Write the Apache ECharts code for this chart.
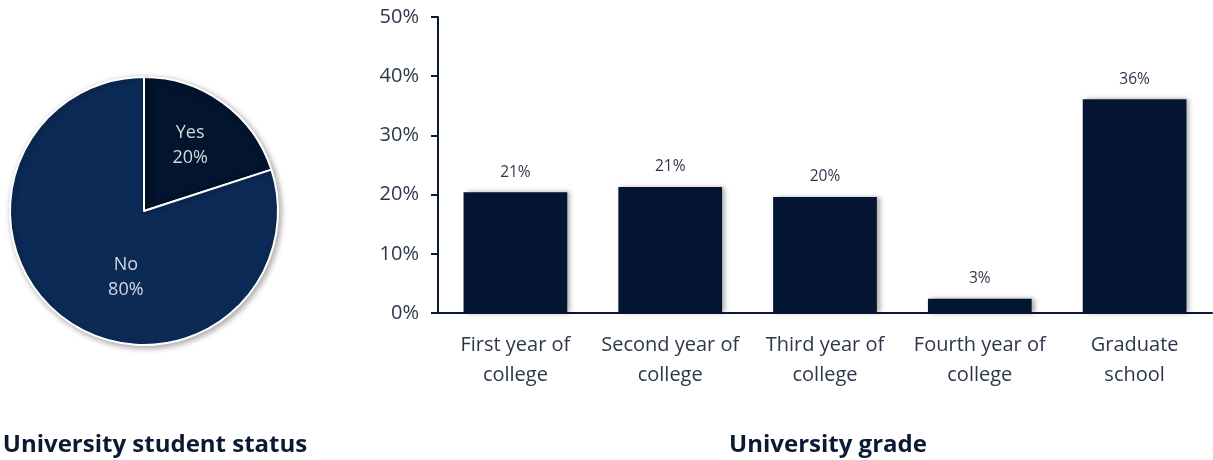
<!DOCTYPE html>
<html>
<head>
<meta charset="utf-8">
<script src="https://cdn.jsdelivr.net/npm/echarts@6/dist/echarts.min.js"></script>
<style>
  html, body { margin: 0; padding: 0; background: #fff; }
  #chart { width: 1213px; height: 460px; }
</style>
</head>
<body>
<div id="chart"></div>
<script>
// pie: university student status
var statusNames = ["Yes", "No"];
var statusValues = [20, 80];
var statusColors = ["#03142f", "#0b2a56"];

// bar: university grade
var gradeNames = ["First year of\ncollege", "Second year of\ncollege", "Third year of\ncollege", "Fourth year of\ncollege", "Graduate\nschool"];
var gradeValues = [20.4, 21.3, 19.6, 2.4, 36.1];
var gradeLabels = ["21%", "21%", "20%", "3%", "36%"];

var fontFam = "'Open Sans', 'Noto Sans', sans-serif";
var textCol = "#2e374a";

var myChart = echarts.init(document.getElementById("chart"));

// inside labels are nudged a bit like the original (spacer line above / below)
var pieFormats = ["{t|{b}}\n{t|{c}%}\n{g| }", "{h| }\n{t|{b}}\n{t|{c}%}"];
var piePads = [[0, 0, 0, 10], [0, 0, 0, 46]];
var pieData = [];
statusNames.forEach(function (n, i) {
  pieData.push({
    name: n, value: statusValues[i],
    itemStyle: { color: statusColors[i] },
    label: { formatter: pieFormats[i], padding: piePads[i] }
  });
});

myChart.setOption({
  animation: false,
  title: [
    {
      text: "University student status",
      left: 150, top: 428, textAlign: "center",
      textStyle: { fontFamily: fontFam, fontSize: 24, fontWeight: "bold", color: "#0b1a33" }
    },
    {
      text: "University grade",
      left: 823, top: 428, textAlign: "center",
      textStyle: { fontFamily: fontFam, fontSize: 24, fontWeight: "bold", color: "#0b1a33" }
    }
  ],
  grid: { left: 438, top: 17, right: 1, bottom: 147 },
  xAxis: {
    type: "category",
    data: gradeNames,
    axisLine: { lineStyle: { color: "#0b1a33", width: 2 } },
    axisTick: { length: 7, lineStyle: { color: "#0b1a33", width: 2 } },
    axisLabel: { interval: 0, fontFamily: fontFam, fontSize: 20, color: textCol, lineHeight: 30, margin: 17 }
  },
  yAxis: {
    type: "value",
    min: 0, max: 50, interval: 10,
    splitLine: { show: false },
    axisLine: { show: true, lineStyle: { color: "#0b1a33", width: 2 } },
    axisTick: { show: true, length: 7, lineStyle: { color: "#0b1a33", width: 2 } },
    axisLabel: { fontFamily: fontFam, fontSize: 20, color: textCol, margin: 19, formatter: "{value}%" }
  },
  series: [
    {
      type: "pie",
      center: [144, 211],
      radius: 134,
      startAngle: 90,
      clockwise: true,
      data: pieData,
      itemStyle: {
        borderColor: "#ffffff", borderWidth: 2,
        shadowColor: "rgba(0,0,0,0.35)", shadowBlur: 6, shadowOffsetX: 2, shadowOffsetY: 2
      },
      label: {
        position: "inside",
        fontFamily: fontFam, fontSize: 18, color: "#d3d8e0",
        rich: {
          t: { fontFamily: fontFam, fontSize: 18, lineHeight: 25, color: "#d3d8e0" },
          g: { fontSize: 10, lineHeight: 18 },
          h: { fontSize: 10, lineHeight: 20 }
        }
      },
      labelLine: { show: false }
    },
    {
      type: "bar",
      data: gradeValues,
      barCategoryGap: "33%",
      itemStyle: {
        color: "#031532",
        shadowColor: "rgba(0,0,0,0.35)", shadowBlur: 5, shadowOffsetX: 3, shadowOffsetY: 0
      },
      label: {
        show: true,
        position: "top",
        distance: 12,
        fontFamily: fontFam, fontSize: 15.5, color: textCol,
        formatter: function (p) { return gradeLabels[p.dataIndex]; }
      }
    }
  ]
});
</script>
</body>
</html>
